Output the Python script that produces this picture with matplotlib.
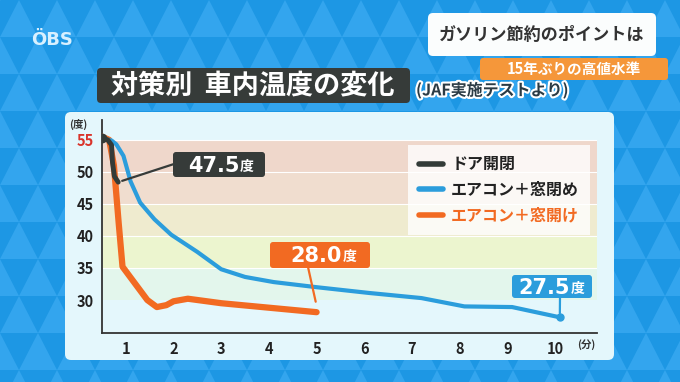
import numpy as np
import matplotlib.pyplot as plt
import matplotlib.patheffects as pe
from matplotlib.patches import Polygon, FancyBboxPatch, Rectangle
from matplotlib.lines import Line2D

plt.rcParams['font.family'] = ['Noto Sans CJK JP', 'DejaVu Sans']

# data (minutes, deg C)
door_t = [0.5, 0.62, 0.7, 0.72, 0.76, 0.84]
door_v = [55.3, 55.0, 54.2, 51.5, 49.3, 48.4]

close_t = [0.5, 0.7, 0.8, 0.95, 1.1, 1.3, 1.6, 1.95, 2.5, 3.0, 3.5, 4.1, 5.0, 6.1, 7.2, 8.1, 9.1, 10.1]
close_v = [55.2, 54.9, 54.3, 52.5, 48.5, 45.2, 42.6, 40.2, 37.5, 34.8, 33.6, 32.8, 32.0, 31.1, 30.3, 29.0, 28.9, 27.3]

open_t = [0.5, 0.65, 0.75, 0.85, 0.93, 1.2, 1.45, 1.65, 1.85, 2.0, 2.3, 3.0, 4.0, 5.0]
open_v = [55.5, 55.0, 51.0, 42.0, 35.2, 32.5, 30.0, 28.9, 29.2, 29.8, 30.2, 29.5, 28.8, 28.1]

xticks = list(range(1, 11))
yticks = [30, 35, 40, 45, 50, 55]
bands = [(50, 55, '#efd7cb'), (45, 50, '#f0ddcf'), (40, 45, '#efebcf'),
         (35, 40, '#ecf5cf'), (30, 35, '#e3f6ec')]

labels = ['ドア開閉', 'エアコン＋窓閉め', 'エアコン＋窓開け']
BLACK = '#333b38'
BLUE = '#2b9ddc'
ORANGE = '#f26a22'

W, H = 680, 382
fig = plt.figure(figsize=(W / 100, H / 100), dpi=100)

# background in pixel coordinates (origin top left)
bg = fig.add_axes([0, 0, 1, 1], zorder=0)
bg.set_xlim(0, W)
bg.set_ylim(H, 0)
bg.axis('off')
bg.add_patch(Rectangle((0, 0), W, H, color='#1d97e4'))
tw, th = 38, 37
for r in range(-1, 12):
    off = (r % 2) * tw / 2
    for c in range(-1, 20):
        x0 = c * tw + off
        y0 = r * th
        bg.add_patch(Polygon([(x0, y0 + th), (x0 + tw / 2, y0), (x0 + tw, y0 + th)],
                             closed=True, color='#33a5ee', lw=0))

bg.text(52, 40, 'ÖBS', fontsize=13, fontweight='bold', color='#d8f0ff',
        ha='center', va='center', family='DejaVu Sans')

# top right caption
bg.add_patch(FancyBboxPatch((428, 13), 228, 43, boxstyle='round,pad=0,rounding_size=5',
                            fc='#fbfdfd', ec='none'))
bg.text(542, 35, 'ガソリン節約のポイントは', fontsize=12.3, fontweight='bold',
        color='#333333', ha='center', va='center')
bg.add_patch(FancyBboxPatch((480, 58), 188, 22, boxstyle='round,pad=0,rounding_size=3',
                            fc='#f5973a', ec='none'))
bg.text(574, 69, '15年ぶりの高値水準', fontsize=10.5, fontweight='bold',
        color='white', ha='center', va='center')

# title
bg.add_patch(FancyBboxPatch((97, 68), 313, 35, boxstyle='round,pad=0,rounding_size=4',
                            fc='#363b39', ec='none'))
bg.text(253, 86, '対策別  車内温度の変化', fontsize=19.5, fontweight='bold',
        color='white', ha='center', va='center')
t = bg.text(416, 90, '(JAF実施テストより)', fontsize=11.5, fontweight='bold',
            color='#2b3b45', ha='left', va='center')
t.set_path_effects([pe.withStroke(linewidth=3, foreground='white')])

# light panel
bg.add_patch(FancyBboxPatch((65, 112), 549, 248, boxstyle='round,pad=0,rounding_size=6',
                            fc='#e4f7fc', ec='none'))
bg.text(78, 124, '(度)', fontsize=7.5, fontweight='bold', color='#333333',
        ha='center', va='center')
bg.text(586, 345, '(分)', fontsize=7.5, fontweight='bold', color='#333333',
        ha='center', va='center')

# chart
ax = fig.add_axes([102 / W, 1 - 333 / H, 495 / W, 213 / H], zorder=2)
ax.patch.set_alpha(0)
ax.set_xlim(0.5, 10.88)
ax.set_ylim(24.85, 58.1)
for lo, hi, col in bands:
    ax.axhspan(lo, hi, color=col, lw=0, zorder=0)
    ax.axhline(hi, color='white', lw=0.8, zorder=0.5)

ax.plot(open_t, open_v, color=ORANGE, lw=4.5, solid_capstyle='round',
        solid_joinstyle='round', zorder=3)
ax.plot(close_t, close_v, color=BLUE, lw=3, solid_capstyle='round',
        solid_joinstyle='round', zorder=4)
ax.plot(close_t[-1], close_v[-1], 'o', color=BLUE, ms=5, zorder=4)
ax.plot(door_t, door_v, color=BLACK, lw=3.5, solid_capstyle='round',
        solid_joinstyle='round', zorder=5)
ax.plot(door_t[0], door_v[0], 'o', color=BLACK, ms=6, zorder=5)

ax.set_xticks(xticks)
ax.set_yticks(yticks)
ax.tick_params(length=0, labelsize=10.5, labelcolor='#222222', pad=6)
for lab in ax.get_xticklabels() + ax.get_yticklabels():
    lab.set_fontweight('bold')
ax.get_yticklabels()[-1].set_color('#d9342b')
for s in ['top', 'right']:
    ax.spines[s].set_visible(False)
for s in ['left', 'bottom']:
    ax.spines[s].set_color('#333333')
    ax.spines[s].set_linewidth(1.3)

handles = [Line2D([], [], color=c, lw=4, solid_capstyle='round') for c in (BLACK, BLUE, ORANGE)]
leg = ax.legend(handles, labels, loc='upper left', bbox_to_anchor=(408 / W, 1 - 145 / H),
                bbox_transform=fig.transFigure, frameon=True, fancybox=False,
                handlelength=1.5, handletextpad=0.5, labelspacing=0.6,
                borderpad=0.7, borderaxespad=0,
                prop={'weight': 'bold', 'size': 11.5})
leg.get_frame().set_facecolor('white')
leg.get_frame().set_alpha(0.8)
leg.get_frame().set_linewidth(0)
leg.set_zorder(6)
for txt, c in zip(leg.get_texts(), ('#222222', '#222222', ORANGE)):
    txt.set_color(c)

# value labels
ov = fig.add_axes([0, 0, 1, 1], zorder=3)
ov.set_xlim(0, W)
ov.set_ylim(H, 0)
ov.axis('off')


def tag(x0, y0, w, h, num, col, px, py, pt):
    ov.add_patch(FancyBboxPatch((x0, y0), w, h, boxstyle='round,pad=0,rounding_size=3',
                                fc=col, ec='none', zorder=4))
    ov.text(x0 + w * 0.72, y0 + h / 2 + 1, num, fontsize=15, fontweight='bold',
            color='white', ha='right', va='center', family='DejaVu Sans', zorder=5)
    ov.text(x0 + w * 0.73, y0 + h / 2 + 2, '度', fontsize=10, fontweight='bold',
            color='white', ha='left', va='center', zorder=5)
    ov.annotate('', xy=pt, xycoords=ax.transData, xytext=(px, py),
                textcoords=ov.transData,
                arrowprops=dict(arrowstyle='-', color=col, lw=1.6,
                                shrinkA=0, shrinkB=3), zorder=3)


tag(173, 152, 92, 25, '47.5', '#363b39', 174, 164, (door_t[-1], door_v[-1]))
tag(270, 242, 100, 26, '28.0', ORANGE, 308, 267, (open_t[-1], open_v[-1] + 1.0))
tag(512, 275, 80, 23, '27.5', BLUE, 560, 297, (close_t[-1], close_v[-1]))

fig.savefig('out.png', dpi=100)
